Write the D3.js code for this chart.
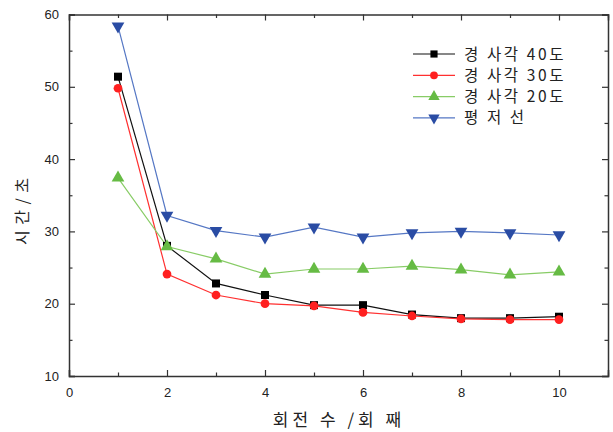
<!DOCTYPE html>
<html>
<head>
<meta charset="utf-8">
<script src="https://cdn.jsdelivr.net/npm/d3@7/dist/d3.min.js"></script>
<style>
  body { margin: 0; background: #fff; }
  svg { display: block; font-family: "Liberation Sans", Arial, "Noto Sans CJK KR", sans-serif; }
</style>
</head>
<body>
<svg id="chart" width="613" height="432"></svg>
<script>
// Rotation count (x) and time in seconds for each tilt setting
const rotations = [1, 2, 3, 4, 5, 6, 7, 8, 9, 10];
const tilt40 = [51.4, 28.0, 22.8, 21.2, 19.8, 19.8, 18.5, 18.0, 18.0, 18.2];
const tilt30 = [49.8, 24.1, 21.2, 20.0, 19.7, 18.8, 18.3, 17.9, 17.8, 17.8];
const tilt20 = [37.4, 27.9, 26.2, 24.1, 24.8, 24.8, 25.2, 24.7, 24.0, 24.4];
const flat   = [58.4, 32.2, 30.1, 29.2, 30.6, 29.2, 29.8, 30.0, 29.8, 29.5];
const seriesNames = ["경 사각 40도", "경 사각 30도", "경 사각 20도", "평 저 선"];
const xTicks = [0, 2, 4, 6, 8, 10];
const yTicks = [10, 20, 30, 40, 50, 60];

const series = [
  { name: seriesNames[0], values: tilt40, line: "#111111", fill: "#000000", shape: d3.symbolSquare, size: 64 },
  { name: seriesNames[1], values: tilt30, line: "#ff3030", fill: "#ff2020", shape: d3.symbolCircle, size: 60 },
  { name: seriesNames[2], values: tilt20, line: "#88cc66", fill: "#66bb44", shape: d3.symbolTriangle, size: 70, rot: 0 },
  { name: seriesNames[3], values: flat,   line: "#5577c4", fill: "#2a4ca4", shape: d3.symbolTriangle, size: 70, rot: 180 }
];

const svg = d3.select("#chart");
const plotL = 69, plotR = 608, plotT = 14.5, plotB = 376;
const x = d3.scaleLinear().domain([0, 11]).range([plotL, plotR]);
const y = d3.scaleLinear().domain([10, 60]).range([plotB, plotT]);
const axisColor = "#333";

// Axes: ticks point inward on all four sides
const gx = svg.append("g").attr("transform", `translate(0,${plotB})`)
  .call(d3.axisBottom(x).tickValues(d3.range(0, 12, 1)).tickSize(-6).tickFormat(d => xTicks.includes(d) ? d : ""));
const gxt = svg.append("g").attr("transform", `translate(0,${plotT})`)
  .call(d3.axisTop(x).tickValues(d3.range(0, 12, 1)).tickSize(-6).tickFormat(""));
const gy = svg.append("g").attr("transform", `translate(${plotL},0)`)
  .call(d3.axisLeft(y).tickValues(d3.range(10, 61, 5)).tickSize(-6).tickFormat(d => yTicks.includes(d) ? d : ""));
const gyr = svg.append("g").attr("transform", `translate(${plotR},0)`)
  .call(d3.axisRight(y).tickValues(d3.range(10, 61, 5)).tickSize(-6).tickFormat(""));

[gx, gxt, gy, gyr].forEach(g => {
  g.select(".domain").attr("stroke", axisColor).attr("stroke-width", 1.5);
  g.selectAll(".tick line").attr("stroke", axisColor).attr("stroke-width", 1.2);
  g.selectAll("text").attr("fill", "#222").style("font-size", "13px");
});
// minor ticks shorter
gx.selectAll(".tick line").attr("y2", d => xTicks.includes(d) ? -6 : -3.5);
gxt.selectAll(".tick line").attr("y2", d => xTicks.includes(d) ? 6 : 3.5);
gy.selectAll(".tick line").attr("x2", d => yTicks.includes(d) ? 6 : 3.5);
gyr.selectAll(".tick line").attr("x2", d => yTicks.includes(d) ? -6 : -3.5);
gx.selectAll("text").attr("dy", "0.9em").attr("y", 9);
gy.selectAll("text").attr("x", -10);

// Axis titles
svg.append("text")
  .attr("x", 339).attr("y", 426)
  .attr("text-anchor", "middle")
  .style("font-size", "17px").style("letter-spacing", "4px").attr("fill", "#222")
  .style("font-family", "'Noto Sans CJK KR', sans-serif")
  .text("회전 수 /회 째");
svg.append("text")
  .attr("transform", "translate(28,211) rotate(-90)")
  .attr("text-anchor", "middle")
  .style("font-size", "16px").style("letter-spacing", "1px").attr("fill", "#222")
  .style("font-family", "'Noto Sans CJK KR', sans-serif")
  .text("시 간 / 초");

// Lines and markers
const line = d3.line().x((d, i) => x(rotations[i])).y(d => y(d));
series.forEach(s => {
  svg.append("path").datum(s.values)
    .attr("d", line).attr("fill", "none")
    .attr("stroke", s.line).attr("stroke-width", 1.2);
});
series.forEach(s => {
  svg.append("g").selectAll("path").data(s.values).join("path")
    .attr("d", d3.symbol().type(s.shape).size(s.size))
    .attr("transform", (d, i) => `translate(${x(rotations[i])},${y(d)}) rotate(${s.rot || 0})`)
    .attr("fill", s.fill);
});

// Legend
const lg = svg.append("g");
series.forEach((s, i) => {
  const yy = 54 + i * 21.3;
  lg.append("line").attr("x1", 413).attr("x2", 455).attr("y1", yy).attr("y2", yy)
    .attr("stroke", s.line).attr("stroke-width", 1.2);
  lg.append("path")
    .attr("d", d3.symbol().type(s.shape).size(s.size * 0.8))
    .attr("transform", `translate(434,${yy}) rotate(${s.rot || 0})`)
    .attr("fill", s.fill);
  lg.append("text").attr("x", 464).attr("y", yy).attr("dy", "0.36em")
    .style("font-size", "15.5px").style("letter-spacing", "2.6px").attr("fill", "#222")
    .style("font-family", "'Noto Sans CJK KR', sans-serif")
    .text(s.name);
});
</script>
</body>
</html>
